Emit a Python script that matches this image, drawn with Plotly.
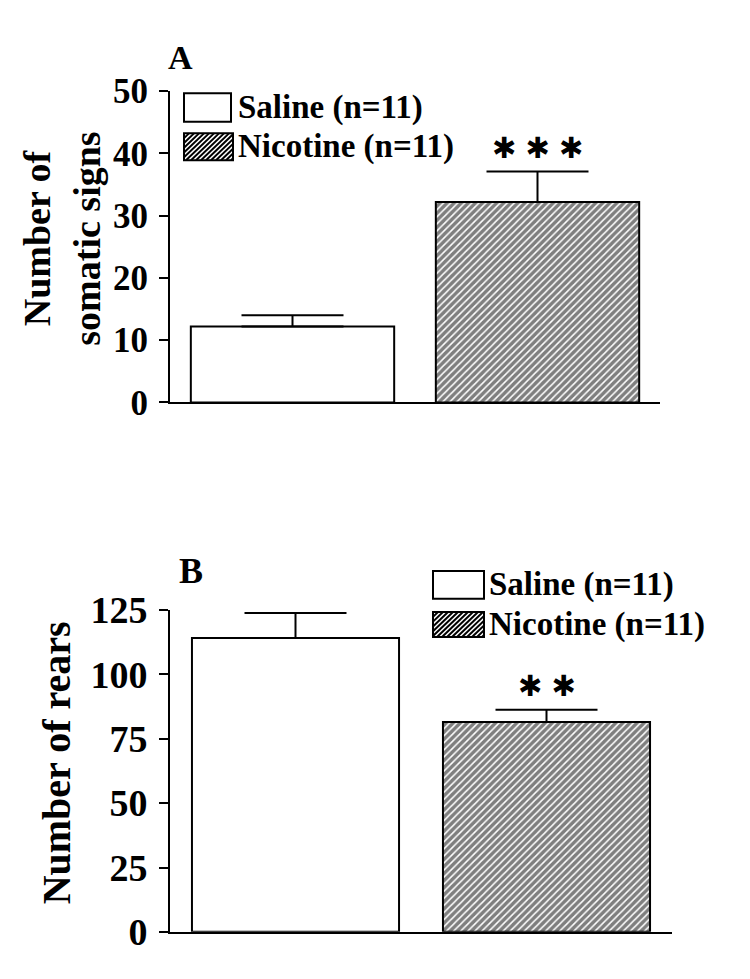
import plotly.graph_objects as go

# values
groups = ["Saline", "Nicotine"]
n_animals = [11, 11]
somatic_mean = [12.2, 32.2]
somatic_sem = [1.8, 4.9]
rears_mean = [114.2, 81.5]
rears_sem = [9.7, 4.8]
somatic_ticks = [0, 10, 20, 30, 40, 50]
rears_ticks = [0, 25, 50, 75, 100, 125]
somatic_signif = ["", "***"]
rears_signif = ["", "**"]

# page body has an 8px margin, so the figure is a bit smaller and offset
PAD = 8
W, H = 750 - 2 * PAD, 979 - 2 * PAD
SERIF = "Liberation Serif"
fills = ["", "/"]  # saline open, nicotine hatched

labels = [f"{g} (n={n})" for g, n in zip(groups, n_animals)]


def px(x):
    return (x - PAD) / W


def py(y):
    return 1 - (y - PAD) / H


fig = go.Figure()


def add_panel(mean, sem, signif, xa, ya, barwidth):
    fig.add_trace(go.Bar(
        x=groups, y=mean, width=barwidth, xaxis=xa, yaxis=ya,
        marker=dict(color="white", line=dict(color="black", width=2),
                    pattern=dict(shape=fills, fgcolor="black", bgcolor="white",
                                 size=5, solidity=0.7)),
        error_y=dict(type="data", array=sem, arrayminus=[0] * len(sem),
                     symmetric=False, color="black", thickness=2, width=51),
        showlegend=False, hoverinfo="skip"))
    # significance stars above the error bars
    for g, m, s, stars in zip(groups, mean, sem, signif):
        if stars:
            fig.add_annotation(x=g, y=m + s, xref=xa, yref=ya,
                               text=" ".join("✱" for _ in stars), showarrow=False,
                               yanchor="bottom", yshift=5,
                               font=dict(family="DejaVu Sans", size=29, color="black"))


add_panel(somatic_mean, somatic_sem, somatic_signif, "x", "y", 0.83)
add_panel(rears_mean, rears_sem, rears_signif, "x2", "y2", 0.825)

xcommon = dict(showline=True, linecolor="black", linewidth=2, showticklabels=False,
               ticks="", showgrid=False, zeroline=False, range=[-0.5, 1.5])
ycommon = dict(showline=True, linecolor="black", linewidth=2, ticks="outside",
               ticklen=9, tickwidth=2, tickcolor="black", showgrid=False,
               zeroline=False, ticklabelstandoff=4)

fig.update_layout(
    width=W, height=H, margin=dict(l=0, r=0, t=0, b=0),
    paper_bgcolor="white", plot_bgcolor="white",
    xaxis=dict(xcommon, domain=[px(170), px(660)], anchor="y"),
    yaxis=dict(ycommon, domain=[py(398), py(73)], anchor="x", range=[0, 50],
               tickvals=somatic_ticks,
               tickfont=dict(family=SERIF, size=35, color="black", weight="bold")),
    xaxis2=dict(xcommon, domain=[px(170), px(672)], anchor="y2"),
    yaxis2=dict(ycommon, domain=[py(951), py(615)], anchor="x2", range=[0, 125],
                tickvals=rears_ticks,
                tickfont=dict(family=SERIF, size=38, color="black", weight="bold")),
)

# panel letters
for letter, (lx, ly), size in [("A", (180, 38), 34), ("B", (191, 574), 36)]:
    fig.add_annotation(x=px(lx), y=py(ly), xref="paper", yref="paper", text=letter,
                       showarrow=False, xanchor="center", yanchor="middle",
                       font=dict(family=SERIF, size=size, color="black", weight="bold"))

# y titles
fig.add_annotation(x=px(62), y=py(227), xref="paper", yref="paper",
                   text="Number of<br>somatic signs", textangle=-90, showarrow=False,
                   xanchor="center", yanchor="middle",
                   font=dict(family=SERIF, size=38, color="black", weight="bold"))
fig.add_annotation(x=px(56), y=py(775), xref="paper", yref="paper",
                   text="Number of rears", textangle=-90, showarrow=False,
                   xanchor="center", yanchor="middle",
                   font=dict(family=SERIF, size=40, color="black", weight="bold"))


# legends drawn by hand so the swatches can be as large as in the original
def hatch(x0, y0, x1, y1, step=5):
    c = x0 + y0 + step
    while c < x1 + y1:
        xa = max(x0, c - y1)
        xb = min(x1, c - y0)
        fig.add_shape(type="line", xref="paper", yref="paper",
                      x0=px(xa), y0=py(c - xa), x1=px(xb), y1=py(c - xb),
                      line=dict(color="black", width=2))
        c += step


def legend(boxes, tx):
    for (x0, y0, x1, y1), fill, lab in zip(boxes, fills, labels):
        fig.add_shape(type="rect", xref="paper", yref="paper",
                      x0=px(x0), y0=py(y1), x1=px(x1), y1=py(y0),
                      fillcolor="white", line=dict(color="black", width=2), layer="below")
        if fill:
            hatch(x0, y0, x1, y1)
        fig.add_annotation(x=px(tx), y=py((y0 + y1) / 2), xref="paper", yref="paper",
                           text=lab, showarrow=False, xanchor="left", yanchor="middle",
                           font=dict(family=SERIF, size=33, color="black", weight="bold"))


legend([(184, 75, 231, 105), (184, 117, 233, 145)], 236)
legend([(433, 574, 484, 603), (433, 617, 484, 643)], 487)

fig.write_html("out.html")
